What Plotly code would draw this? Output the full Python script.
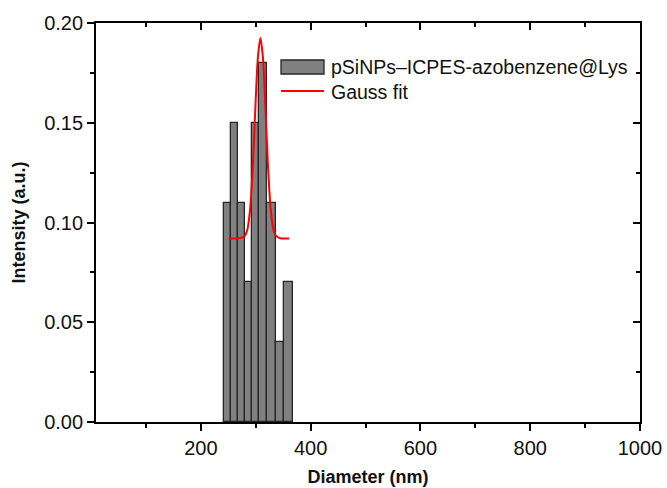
import plotly.graph_objects as go

# ---- data ----
bin_edges = [242, 254.5, 267, 280, 293, 306.5, 321, 336.5, 352, 367]
intensity = [0.11, 0.15, 0.11, 0.07, 0.15, 0.18, 0.11, 0.04, 0.07]

fit_x = [251, 262, 272, 280, 285, 290, 295, 300, 304, 308.5, 313, 317, 322, 327, 332, 337, 345, 352, 361]
fit_y = [0.092, 0.092, 0.0922, 0.0933, 0.0968, 0.1075, 0.130, 0.162, 0.183, 0.1925, 0.183, 0.162, 0.130, 0.1075, 0.0968, 0.0933, 0.0921, 0.092, 0.092]

bar_label = "pSiNPs\u2013ICPES-azobenzene@Lys"
fit_label = "Gauss fit"
x_title = "Diameter (nm)"
y_title = "Intensity (a.u.)"

bar_centers = [(a + b) / 2 for a, b in zip(bin_edges[:-1], bin_edges[1:])]
bar_widths = [b - a for a, b in zip(bin_edges[:-1], bin_edges[1:])]

W, H = 667, 488
L, R, T, B = 96, 27, 23, 66
PW, PH = W - L - R, H - T - B
FONT = "Liberation Sans, Arial, sans-serif"


def px(xpix):
    return (xpix - L) / PW


def py(ypix):
    return (H - B - ypix) / PH


fig = go.Figure()
fig.add_trace(go.Bar(
    x=bar_centers, y=intensity, width=bar_widths, name=bar_label,
    marker=dict(color="#808080", line=dict(color="#262626", width=1.3)),
    showlegend=False,
))
fig.add_trace(go.Scatter(
    x=fit_x, y=fit_y, mode="lines", name=fit_label,
    line=dict(color="#ff0000", width=2, shape="spline", smoothing=0.8),
    showlegend=False,
))
# dummy trace to anchor mirror axes
fig.add_trace(go.Scatter(x=[None], y=[None], xaxis="x2", yaxis="y2",
                         showlegend=False, hoverinfo="skip"))

axis_common = dict(showgrid=False, zeroline=False, linecolor="black", linewidth=1.8,
                   tickcolor="black", tickwidth=1.5, automargin=False,
                   tickfont=dict(family=FONT, size=20, color="#111"))

fig.update_layout(
    width=W, height=H,
    margin=dict(l=L, r=R, t=T, b=B, pad=0),
    plot_bgcolor="white", paper_bgcolor="white",
    bargap=0,
    xaxis=dict(range=[9, 1000], tickmode="linear", tick0=0, dtick=200,
               ticks="outside", ticklen=7, showline=True,
               minor=dict(ticks="outside", ticklen=4, tickwidth=1.5, tickcolor="black",
                          tick0=0, dtick=100),
               title=dict(text="<b>" + x_title + "</b>",
                          font=dict(family=FONT, size=18, color="#111"), standoff=12),
               **axis_common),
    yaxis=dict(range=[0, 0.2], tickmode="linear", tick0=0, dtick=0.05, tickformat=".2f",
               ticks="outside", ticklen=7, showline=True,
               minor=dict(ticks="outside", ticklen=4, tickwidth=1.5, tickcolor="black",
                          tick0=0, dtick=0.025),
               title=dict(text="<b>" + y_title + "</b>",
                          font=dict(family=FONT, size=18, color="#111"), standoff=14),
               **axis_common),
    xaxis2=dict(overlaying="x", matches="x", side="top", anchor="y2",
                tickmode="linear", tick0=0, dtick=200, ticks="inside", ticklen=7,
                showticklabels=False, showline=True,
                minor=dict(ticks="inside", ticklen=4, tickwidth=1.5, tickcolor="black",
                           tick0=0, dtick=100),
                **axis_common),
    yaxis2=dict(overlaying="y", matches="y", side="right", anchor="x2",
                tickmode="linear", tick0=0, dtick=0.05, ticks="inside", ticklen=7,
                showticklabels=False, showline=True,
                minor=dict(ticks="inside", ticklen=4, tickwidth=1.5, tickcolor="black",
                           tick0=0, dtick=0.025),
                **axis_common),
)

# custom legend (wide bar swatch like the reference)
fig.add_shape(type="rect", xref="paper", yref="paper",
              x0=px(281), x1=px(324), y0=py(74), y1=py(60),
              fillcolor="#808080", line=dict(color="#262626", width=1.3))
fig.add_shape(type="line", xref="paper", yref="paper",
              x0=px(281), x1=px(324), y0=py(91), y1=py(91),
              line=dict(color="#ff0000", width=2))
fig.add_annotation(text=bar_label, xref="paper", yref="paper", x=px(329), y=py(67),
                   xanchor="left", yanchor="middle", showarrow=False,
                   font=dict(family=FONT, size=19.5, color="#111"))
fig.add_annotation(text=fit_label, xref="paper", yref="paper", x=px(329), y=py(92),
                   xanchor="left", yanchor="middle", showarrow=False,
                   font=dict(family=FONT, size=19.5, color="#111"))

fig.write_html("out.html")
